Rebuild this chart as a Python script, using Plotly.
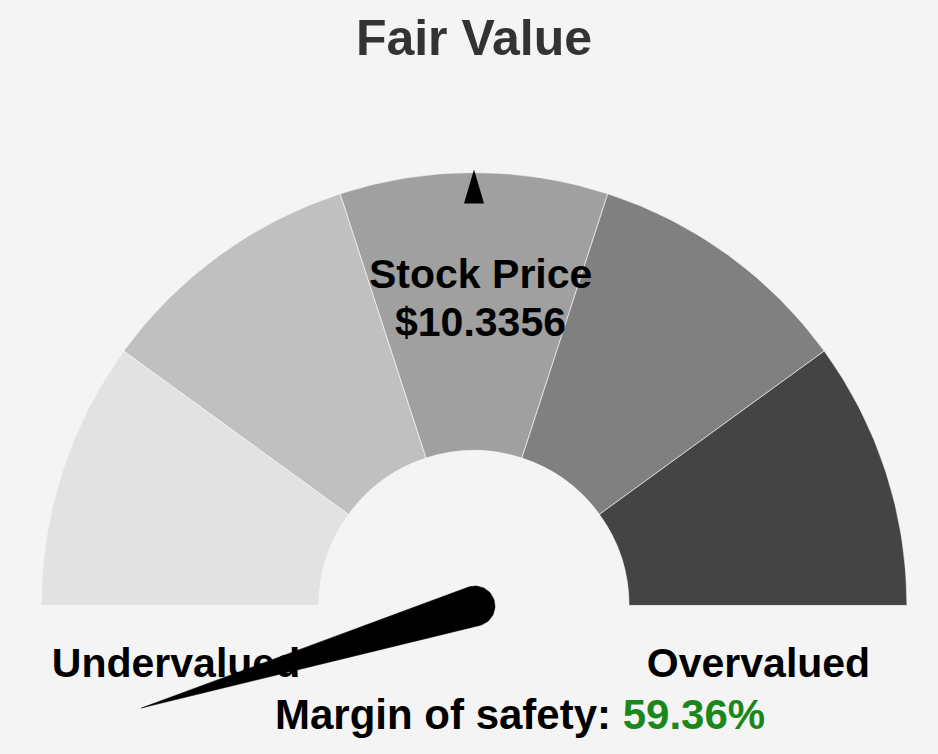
import math

import plotly.graph_objects as go

W, H = 938, 754

# dial bands, left (cheap) to right (expensive)
band_names = ["Deep discount", "Discount", "Fair", "Premium", "Expensive"]
band_sizes = [1, 1, 1, 1, 1]
band_colors = ["#e2e2e2", "#c0c0c0", "#a0a0a0", "#808080", "#444444"]

stock_price = 10.3356
margin_of_safety = 59.36
needle_angle_deg = 197  # 0 = pointing right, counter-clockwise
fair_value_angle_deg = 90

side_labels = ["Undervalued", "Overvalued"]

FONT = "Liberation Sans, Arial, Helvetica, sans-serif"

# gauge geometry in page pixels (y measured from the top)
CX, CY = 474.0, 605.5
R_OUT = 433.0
HOLE = 0.358
PIVOT = (475.0, 606.0)
NEEDLE_LEN = 349.0
NEEDLE_R = 20.0

total = sum(band_sizes)
thetas, widths = [], []
start = 180.0
for size in band_sizes:
    span = 180.0 * size / total
    thetas.append(start - span / 2)
    widths.append(span)
    start -= span

fig = go.Figure()

fig.add_trace(
    go.Barpolar(
        r=[1] * len(band_sizes),
        theta=thetas,
        width=widths,
        marker={"color": band_colors, "line": {"color": "rgba(255,255,255,0.6)", "width": 1}},
        text=band_names,
        hoverinfo="text",
        subplot="polar",
        showlegend=False,
    )
)

# side labels sit under the needle, so they are a trace rather than annotations
fig.add_trace(
    go.Scatter(
        x=[176, 758.5],
        y=[667, 667],
        mode="text",
        text=side_labels,
        textposition="middle center",
        textfont={"family": FONT, "size": 41, "color": "black", "weight": "bold"},
        hoverinfo="skip",
        showlegend=False,
    )
)

# needle: rounded base plus a long taper to the tip
a = math.radians(needle_angle_deg)
dx, dy = math.cos(a), -math.sin(a)
phi = math.atan2(dy, dx)
nx, ny = [], []
for k in range(41):
    t = phi + math.pi / 2 + math.pi * k / 40
    nx.append(PIVOT[0] + NEEDLE_R * math.cos(t))
    ny.append(PIVOT[1] + NEEDLE_R * math.sin(t))
nx.append(PIVOT[0] + NEEDLE_LEN * dx)
ny.append(PIVOT[1] + NEEDLE_LEN * dy)
nx.append(nx[0])
ny.append(ny[0])
fig.add_trace(
    go.Scatter(
        x=nx,
        y=ny,
        mode="lines",
        fill="toself",
        fillcolor="black",
        line={"color": "black", "width": 0.5},
        hoverinfo="skip",
        showlegend=False,
    )
)

# little marker at the fair-value position on the rim
b = math.radians(fair_value_angle_deg)
ux, uy = math.cos(b), -math.sin(b)
px, py = -uy, ux
apex = (CX + (R_OUT + 3) * ux, CY + (R_OUT + 3) * uy)
base_c = (CX + (R_OUT - 31) * ux, CY + (R_OUT - 31) * uy)
tri = "M {:.1f} {:.1f} L {:.1f} {:.1f} L {:.1f} {:.1f} Z".format(
    apex[0], apex[1],
    base_c[0] + 10 * px, base_c[1] + 10 * py,
    base_c[0] - 10 * px, base_c[1] - 10 * py,
)

fig.update_layout(
    width=W,
    height=H,
    margin={"l": 0, "r": 0, "t": 0, "b": 0},
    paper_bgcolor="#f4f4f4",
    plot_bgcolor="rgba(0,0,0,0)",
    font={"family": FONT},
    title={
        "text": "Fair Value",
        "x": 474 / W,
        "xanchor": "center",
        "y": 1 - 37 / H,
        "yanchor": "middle",
        "font": {"family": FONT, "size": 50, "color": "#333333", "weight": "bold"},
    },
    polar={
        "domain": {"x": [(CX - R_OUT) / W, (CX + R_OUT) / W], "y": [(H - CY) / H, (H - CY + R_OUT) / H]},
        "sector": [0, 180],
        "hole": HOLE,
        "bgcolor": "rgba(0,0,0,0)",
        "bargap": 0,
        "radialaxis": {"visible": False, "range": [0, 1]},
        "angularaxis": {"visible": False, "direction": "counterclockwise", "rotation": 0},
    },
    xaxis={"range": [0, W], "visible": False, "fixedrange": True, "domain": [0, 1]},
    yaxis={"range": [H, 0], "visible": False, "fixedrange": True, "domain": [0, 1]},
    shapes=[
        {
            "type": "path",
            "path": tri,
            "xref": "x",
            "yref": "y",
            "fillcolor": "black",
            "line": {"width": 0},
            "layer": "above",
        }
    ],
    annotations=[
        {
            "text": "Stock Price",
            "x": 480, "y": 274, "xref": "x", "yref": "y",
            "showarrow": False, "xanchor": "center", "yanchor": "middle",
            "font": {"family": FONT, "size": 41, "color": "black", "weight": "bold"},
        },
        {
            "text": f"${stock_price:.4f}",
            "x": 480, "y": 322, "xref": "x", "yref": "y",
            "showarrow": False, "xanchor": "center", "yanchor": "middle",
            "font": {"family": FONT, "size": 41, "color": "black", "weight": "bold"},
        },
        {
            "text": f"Margin of safety: <span style='color:#1a871a'>{margin_of_safety:.2f}%</span>",
            "x": 520, "y": 714, "xref": "x", "yref": "y",
            "showarrow": False, "xanchor": "center", "yanchor": "middle",
            "font": {"family": FONT, "size": 42, "color": "black", "weight": "bold"},
        },
    ],
)

fig.write_html(
    "out.html",
    config={"displayModeBar": False},
    post_script="document.body.style.margin='0';",
)
